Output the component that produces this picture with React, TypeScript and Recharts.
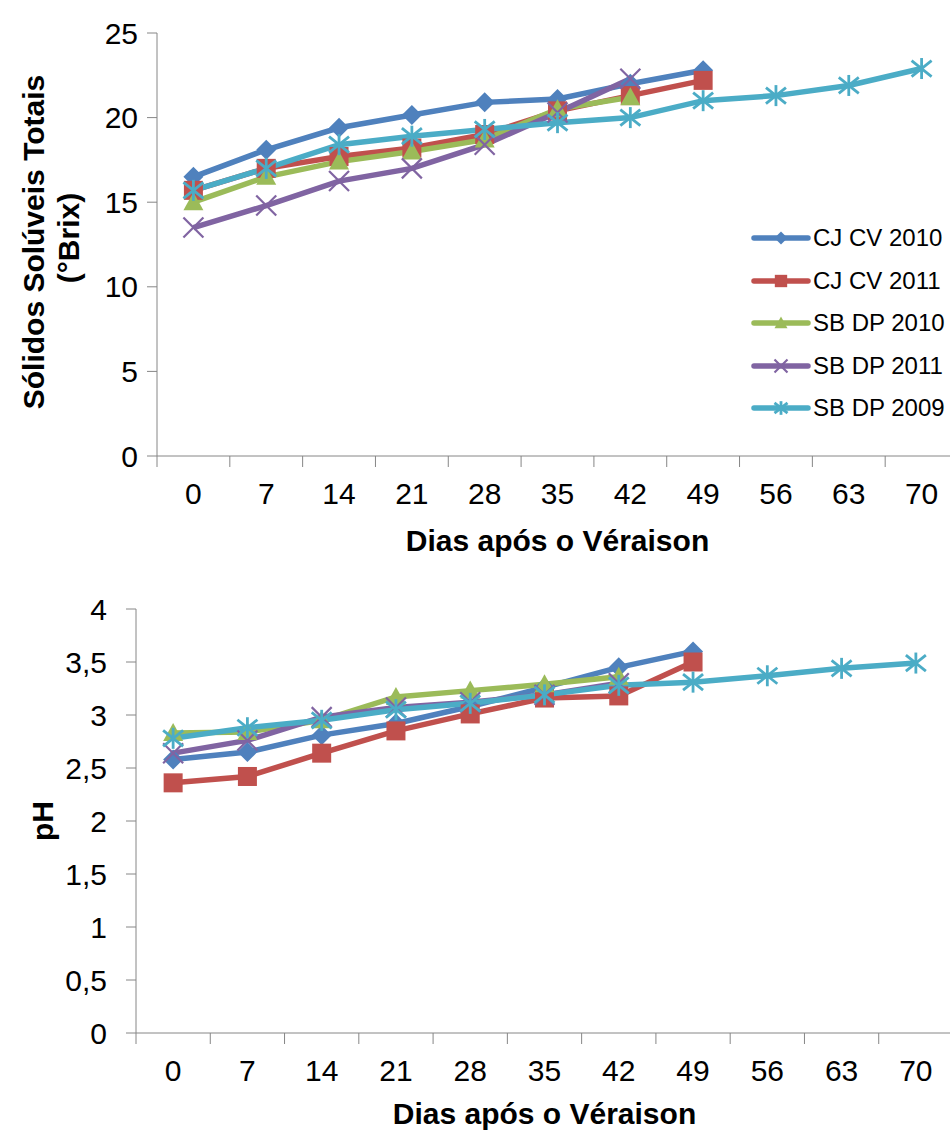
import { LineChart, Line, XAxis, YAxis } from 'recharts';

const days = [0, 7, 14, 21, 28, 35, 42, 49, 56, 63, 70];

const seriesNames = ['CJ CV 2010', 'CJ CV 2011', 'SB DP 2010', 'SB DP 2011', 'SB DP 2009'];

// Sólidos solúveis totais (°Brix)
const brixCjCv2010 = [16.5, 18.1, 19.4, 20.15, 20.9, 21.1, 22.0, 22.8, null, null, null];
const brixCjCv2011 = [15.7, 17.0, 17.7, 18.2, 19.0, 20.4, 21.3, 22.2, null, null, null];
const brixSbDp2010 = [15.0, 16.5, 17.4, 18.0, 18.7, 20.5, 21.2, null, null, null, null];
const brixSbDp2011 = [13.5, 14.8, 16.25, 17.0, 18.4, 20.3, 22.3, null, null, null, null];
const brixSbDp2009 = [15.7, 17.0, 18.4, 18.9, 19.3, 19.7, 20.0, 21.0, 21.3, 21.9, 22.9];

// pH
const phCjCv2010 = [2.58, 2.65, 2.81, 2.92, 3.08, 3.26, 3.45, 3.6, null, null, null];
const phCjCv2011 = [2.36, 2.42, 2.64, 2.85, 3.01, 3.16, 3.18, 3.5, null, null, null];
const phSbDp2010 = [2.83, 2.84, 2.95, 3.17, 3.23, 3.29, 3.36, null, null, null, null];
const phSbDp2011 = [2.64, 2.76, 2.98, 3.07, 3.12, 3.19, 3.3, null, null, null, null];
const phSbDp2009 = [2.78, 2.88, 2.95, 3.05, 3.11, 3.19, 3.28, 3.31, 3.37, 3.44, 3.49];

const brixTicks = [0, 5, 10, 15, 20, 25];
const phTicks = [0, 0.5, 1, 1.5, 2, 2.5, 3, 3.5, 4];

const COLORS = ['#4F81BD', '#C0504D', '#9BBB59', '#8064A2', '#4BACC6'];
const MARKERS = ['diamond', 'square', 'triangle', 'x', 'star'];
const KEYS = ['s0', 's1', 's2', 's3', 's4'];

const FONT = '"Liberation Sans", Arial, sans-serif';
const AXIS_GRAY = '#868686';

function buildRows(series: (number | null)[][]) {
  return days.map((d, i) => {
    const row: Record<string, number | string | null> = { day: String(d) };
    series.forEach((s, k) => {
      row[KEYS[k]] = s[i];
    });
    return row;
  });
}

const brixData = buildRows([brixCjCv2010, brixCjCv2011, brixSbDp2010, brixSbDp2011, brixSbDp2009]);
const phData = buildRows([phCjCv2010, phCjCv2011, phSbDp2010, phSbDp2011, phSbDp2009]);

function Marker({ kind, cx, cy, color, r = 10 }: { kind: string; cx: number; cy: number; color: string; r?: number }) {
  switch (kind) {
    case 'diamond':
      return (
        <polygon
          points={`${cx},${cy - r} ${cx + r},${cy} ${cx},${cy + r} ${cx - r},${cy}`}
          fill={color}
        />
      );
    case 'square':
      return <rect x={cx - r * 0.95} y={cy - r * 0.95} width={r * 1.9} height={r * 1.9} fill={color} />;
    case 'triangle':
      return (
        <polygon
          points={`${cx},${cy - r} ${cx + r},${cy + r * 0.8} ${cx - r},${cy + r * 0.8}`}
          fill={color}
        />
      );
    case 'x':
      return (
        <g stroke={color} strokeWidth={2.2}>
          <line x1={cx - r} y1={cy - r} x2={cx + r} y2={cy + r} />
          <line x1={cx - r} y1={cy + r} x2={cx + r} y2={cy - r} />
        </g>
      );
    default:
      return (
        <g stroke={color} strokeWidth={2.8}>
          <line x1={cx - r} y1={cy - r * 0.8} x2={cx + r} y2={cy + r * 0.8} />
          <line x1={cx - r} y1={cy + r * 0.8} x2={cx + r} y2={cy - r * 0.8} />
          <line x1={cx} y1={cy - r * 1.05} x2={cx} y2={cy + r * 1.05} />
        </g>
      );
  }
}

function makeDot(k: number) {
  return (props: any) => {
    const { cx, cy, index, value } = props;
    if (cx == null || cy == null || value == null) return <g key={`d${k}-${index}`} />;
    return (
      <g key={`d${k}-${index}`}>
        <Marker kind={MARKERS[k]} cx={cx} cy={cy} color={COLORS[k]} />
      </g>
    );
  };
}

// category labels sit in the middle of each band, tick marks on band edges
function makeDayTick(halfBand: number) {
  return (props: any) => {
    const { x, y, payload } = props;
    return (
      <g>
        <line x1={x - halfBand} y1={y - 27} x2={x - halfBand} y2={y - 16} stroke={AXIS_GRAY} />
        <text x={x} y={y} dy="0.71em" textAnchor="middle" fontSize={30} fontFamily={FONT} fill="#000">
          {payload.value}
        </text>
      </g>
    );
  };
}

function SeriesLegend() {
  return (
    <div style={{ position: 'absolute', left: 751, top: 217, fontFamily: FONT }}>
      {seriesNames.map((name, k) => (
        <div key={name} style={{ display: 'flex', alignItems: 'center', height: 42.5 }}>
          <svg width={60} height={24} style={{ display: 'block' }}>
            <line x1={3} y1={12} x2={57} y2={12} stroke={COLORS[k]} strokeWidth={5.5} strokeLinecap="round" />
            <Marker kind={MARKERS[k]} cx={30} cy={12} color={COLORS[k]} r={6.5} />
          </svg>
          <span style={{ fontSize: 24, marginLeft: 2, color: '#000', whiteSpace: 'nowrap' }}>{name}</span>
        </div>
      ))}
    </div>
  );
}

function seriesLines() {
  return KEYS.map((key, k) => (
    <Line
      key={key}
      dataKey={key}
      name={seriesNames[k]}
      stroke={COLORS[k]}
      strokeWidth={5.5}
      dot={makeDot(k)}
      activeDot={false}
      isAnimationActive={false}
      connectNulls={false}
    />
  ));
}

const tickStyle = { fontSize: 30, fontFamily: FONT, fill: '#000' };

function xTitle(dy: number) {
  return ({ viewBox }: any) => (
    <text
      x={viewBox.x + viewBox.width / 2}
      y={viewBox.y + dy}
      textAnchor="middle"
      fontSize={30}
      fontWeight="bold"
      fontFamily={FONT}
      fill="#000"
    >
      Dias após o Véraison
    </text>
  );
}

export default function App() {
  const brixHalf = 801 / 11 / 2;
  const phHalf = 817 / 11 / 2;
  return (
    <div style={{ position: 'absolute', left: 0, top: 0, width: 950, height: 1132, overflow: 'hidden', background: '#fff' }}>
      <div style={{ position: 'absolute', left: 0, top: 0 }}>
        <LineChart width={960} height={560} data={brixData} margin={{ top: 33, right: 2, bottom: 44, left: 97 }}>
          <XAxis
            dataKey="day"
            type="category"
            height={60}
            padding={{ left: brixHalf, right: brixHalf }}
            stroke={AXIS_GRAY}
            tickLine={false}
            tickSize={0}
            tickMargin={27}
            tick={makeDayTick(brixHalf)}
            interval={0}
            label={{ content: xTitle(95) }}
          />
          <YAxis
            width={60}
            domain={[0, 25]}
            ticks={brixTicks}
            stroke={AXIS_GRAY}
            tickSize={10}
            tickMargin={9}
            tick={tickStyle}
            interval={0}
          />
          <text x={33} y={242} transform="rotate(-90 33 242)" textAnchor="middle" dominantBaseline="central" fontSize={30} fontWeight="bold" fontFamily={FONT}>
            Sólidos Solúveis Totais
          </text>
          <text x={68} y={238} transform="rotate(-90 68 238)" textAnchor="middle" dominantBaseline="central" fontSize={30} fontWeight="bold" fontFamily={FONT}>
            (°Brix)
          </text>
          {seriesLines()}
        </LineChart>
        <SeriesLegend />
      </div>
      <div style={{ position: 'absolute', left: 0, top: 576 }}>
        <LineChart width={960} height={560} data={phData} margin={{ top: 33, right: 7, bottom: 43, left: 76 }}>
          <XAxis
            dataKey="day"
            type="category"
            height={60}
            padding={{ left: phHalf, right: phHalf }}
            stroke={AXIS_GRAY}
            tickLine={false}
            tickSize={0}
            tickMargin={27}
            tick={makeDayTick(phHalf)}
            interval={0}
            label={{ content: xTitle(91) }}
          />
          <YAxis
            width={60}
            domain={[0, 4]}
            ticks={phTicks}
            stroke={AXIS_GRAY}
            tickSize={10}
            tickMargin={19}
            tick={tickStyle}
            tickFormatter={(v: number) => String(v).replace('.', ',')}
            interval={0}
          />
          <text x={42} y={245} transform="rotate(-90 42 245)" textAnchor="middle" dominantBaseline="central" fontSize={30} fontWeight="bold" fontFamily={FONT}>
            pH
          </text>
          {seriesLines()}
        </LineChart>
      </div>
    </div>
  );
}
